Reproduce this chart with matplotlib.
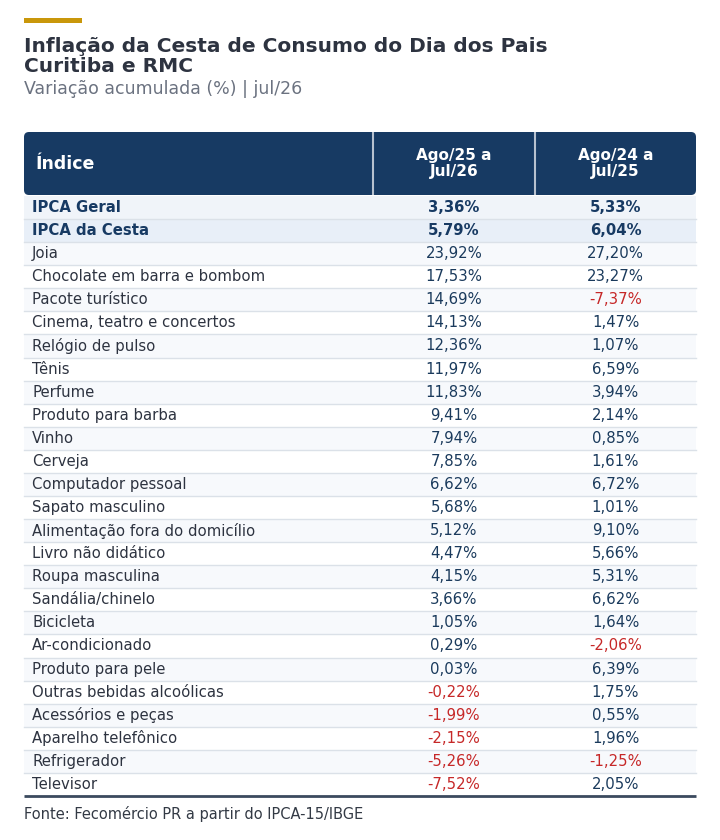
import matplotlib
matplotlib.use("Agg")
import matplotlib.pyplot as plt
from matplotlib.patches import FancyBboxPatch, Rectangle

plt.rcParams['font.family'] = ['DejaVu Sans']

title_lines = ["Inflação da Cesta de Consumo do Dia dos Pais", "Curitiba e RMC"]
subtitle = "Variação acumulada (%) | jul/26"
col_headers = ["Índice", "Ago/25 a\nJul/26", "Ago/24 a\nJul/25"]
source = "Fonte: Fecomércio PR a partir do IPCA-15/IBGE"

items = ["IPCA Geral", "IPCA da Cesta", "Joia", "Chocolate em barra e bombom",
         "Pacote turístico", "Cinema, teatro e concertos", "Relógio de pulso",
         "Tênis", "Perfume", "Produto para barba", "Vinho", "Cerveja",
         "Computador pessoal", "Sapato masculino", "Alimentação fora do domicílio",
         "Livro não didático", "Roupa masculina", "Sandália/chinelo", "Bicicleta",
         "Ar-condicionado", "Produto para pele", "Outras bebidas alcoólicas",
         "Acessórios e peças", "Aparelho telefônico", "Refrigerador", "Televisor"]
v_2526 = [3.36, 5.79, 23.92, 17.53, 14.69, 14.13, 12.36, 11.97, 11.83, 9.41, 7.94,
          7.85, 6.62, 5.68, 5.12, 4.47, 4.15, 3.66, 1.05, 0.29, 0.03, -0.22,
          -1.99, -2.15, -5.26, -7.52]
v_2425 = [5.33, 6.04, 27.20, 23.27, -7.37, 1.47, 1.07, 6.59, 3.94, 2.14, 0.85,
          1.61, 6.72, 1.01, 9.10, 5.66, 5.31, 6.62, 1.64, -2.06, 6.39, 1.75,
          0.55, 1.96, -1.25, 2.05]
bold_rows = ["IPCA Geral", "IPCA da Cesta"]

W, H = 720, 840
fig = plt.figure(figsize=(W / 100, H / 100), dpi=100)
ax = fig.add_axes([0, 0, 1, 1])
ax.set_xlim(0, W)
ax.set_ylim(H, 0)
ax.axis('off')

NAVY = '#173a63'
TEXT = '#2d3340'
RED = '#c62828'
VAL = '#1a3a5c'

# accent bar
ax.add_patch(Rectangle((24, 18), 58, 4.5, color='#c9970a', lw=0))
ax.text(24, 47, title_lines[0], fontsize=14.5, fontweight='bold', color='#2d3340', va='center', ha='left')
ax.text(24, 67, title_lines[1], fontsize=14.5, fontweight='bold', color='#2d3340', va='center', ha='left')
ax.text(24, 89, subtitle, fontsize=12.5, color='#6b7280', va='center', ha='left')

x0, x1 = 24, 696
xd1, xd2 = 373, 535
c1 = (xd1 + xd2) / 2
c2 = (xd2 + x1) / 2
hy0, hy1 = 132, 195
ax.add_patch(FancyBboxPatch((x0, hy0), x1 - x0, hy1 - hy0,
                            boxstyle="round,pad=0,rounding_size=5",
                            fc=NAVY, ec='none', mutation_aspect=1))
for xd in (xd1, xd2):
    ax.plot([xd, xd], [hy0, hy1], color='#b7c1cf', lw=1.5, solid_capstyle='butt')
hc = (hy0 + hy1) / 2
ax.text(35, hc + 0.5, col_headers[0], fontsize=12.5, fontweight='bold', color='white', va='center', ha='left')
ax.text(c1, hc, col_headers[1], fontsize=11, fontweight='bold', color='white', va='center', ha='center', linespacing=1.1)
ax.text(c2, hc, col_headers[2], fontsize=11, fontweight='bold', color='white', va='center', ha='center', linespacing=1.1)

def fmt(v):
    return f"{v:.2f}".replace('.', ',') + '%'

ry0 = 196
rh = (796 - 196) / len(items)
for i, (name, a, b) in enumerate(zip(items, v_2526, v_2425)):
    top = ry0 + i * rh
    if i == 0:
        bg = '#f0f4f9'
    elif i == 1:
        bg = '#e8eff8'
    elif (i - 2) % 2 == 0:
        bg = '#f7f9fc'
    else:
        bg = '#ffffff'
    ax.add_patch(Rectangle((x0, top), x1 - x0, rh, fc=bg, ec='none'))
    if i > 0:
        ax.plot([x0, x1], [top, top], color='#dbe1e8', lw=1)
    cy = top + rh / 2
    isb = name in bold_rows
    fw = 'bold' if isb else 'normal'
    ax.text(32, cy, name, fontsize=10.7, fontweight=fw, color=NAVY if isb else TEXT, va='center', ha='left')
    for v, cx in ((a, c1), (b, c2)):
        col = RED if v < 0 else (NAVY if isb else VAL)
        ax.text(cx, cy, fmt(v), fontsize=10.7, fontweight=fw, color=col, va='center', ha='center')

ax.plot([x0, x1], [796, 796], color='#3b4a5e', lw=2, solid_capstyle='butt')
ax.text(24, 814, source, fontsize=10.5, color='#333a45', va='center', ha='left')

fig.savefig('out.png', dpi=100)
